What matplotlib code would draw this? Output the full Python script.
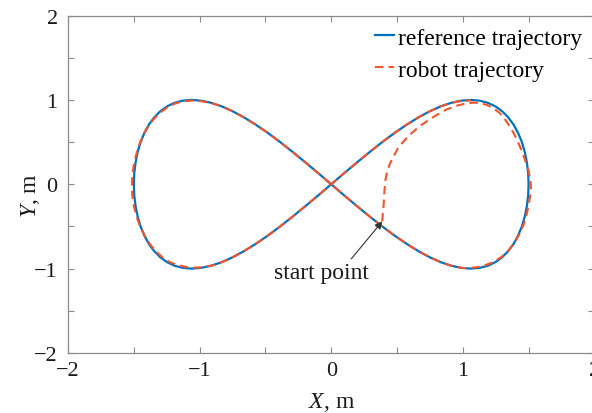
import numpy as np
import matplotlib.pyplot as plt

plt.rcParams['font.family'] = ['Liberation Serif', 'DejaVu Serif']
plt.rcParams['mathtext.fontset'] = 'custom'
plt.rcParams['mathtext.rm'] = 'Liberation Serif'
plt.rcParams['mathtext.it'] = 'Liberation Serif:italic'

# reference figure-eight path, m
ref_x = [0.000, 0.098, 0.196, 0.293, 0.388, 0.482, 0.574, 0.663, 0.750, 0.833, 0.913, 0.989,
         1.061, 1.128, 1.190, 1.247, 1.299, 1.345, 1.386, 1.420, 1.449, 1.471, 1.487, 1.497,
         1.500, 1.497, 1.487, 1.471, 1.449, 1.420, 1.386, 1.345, 1.299, 1.247, 1.190, 1.128,
         1.061, 0.989, 0.913, 0.833, 0.750, 0.663, 0.574, 0.482, 0.388, 0.293, 0.196, 0.098,
         0.000, -0.098, -0.196, -0.293, -0.388, -0.482, -0.574, -0.663, -0.750, -0.833, -0.913, -0.989,
         -1.061, -1.128, -1.190, -1.247, -1.299, -1.345, -1.386, -1.420, -1.449, -1.471, -1.487, -1.497,
         -1.500, -1.497, -1.487, -1.471, -1.449, -1.420, -1.386, -1.345, -1.299, -1.247, -1.190, -1.128,
         -1.061, -0.989, -0.913, -0.833, -0.750, -0.663, -0.574, -0.482, -0.388, -0.293, -0.196, -0.098,
         0.000]
ref_y = [0.000, 0.131, 0.259, 0.383, 0.500, 0.609, 0.707, 0.793, 0.866, 0.924, 0.966, 0.991,
         1.000, 0.991, 0.966, 0.924, 0.866, 0.793, 0.707, 0.609, 0.500, 0.383, 0.259, 0.131,
         0.000, -0.131, -0.259, -0.383, -0.500, -0.609, -0.707, -0.793, -0.866, -0.924, -0.966, -0.991,
         -1.000, -0.991, -0.966, -0.924, -0.866, -0.793, -0.707, -0.609, -0.500, -0.383, -0.259, -0.131,
         0.000, 0.131, 0.259, 0.383, 0.500, 0.609, 0.707, 0.793, 0.866, 0.924, 0.966, 0.991,
         1.000, 0.991, 0.966, 0.924, 0.866, 0.793, 0.707, 0.609, 0.500, 0.383, 0.259, 0.131,
         0.000, -0.131, -0.259, -0.383, -0.500, -0.609, -0.707, -0.793, -0.866, -0.924, -0.966, -0.991,
         -1.000, -0.991, -0.966, -0.924, -0.866, -0.793, -0.707, -0.609, -0.500, -0.383, -0.259, -0.131,
         0.000]

# measured robot path, m
robot_x = [0.388, 0.392, 0.398, 0.402, 0.406, 0.412, 0.425, 0.445, 0.470, 0.505, 0.545, 0.600,
           0.665, 0.730, 0.800, 0.875, 0.950, 1.015, 1.080, 1.130, 1.180, 1.230, 1.280, 1.320,
           1.360, 1.395, 1.425, 1.455, 1.480, 1.500, 1.513, 1.518, 1.512, 1.500, 1.485, 1.462,
           1.430, 1.395, 1.350, 1.295, 1.230, 1.160, 1.100, 1.040,
           0.989, 0.913, 0.833, 0.750, 0.663, 0.574, 0.482, 0.388, 0.293, 0.196, 0.098, 0.000,
           -0.098, -0.196, -0.293, -0.388, -0.482, -0.574, -0.663, -0.750, -0.833, -0.913, -0.989, -1.061,
           -1.128, -1.190, -1.247, -1.299, -1.345, -1.386, -1.420, -1.452, -1.477, -1.497, -1.510, -1.515,
           -1.512, -1.500, -1.480, -1.452, -1.418, -1.380, -1.336, -1.286, -1.230, -1.170, -1.105, -1.040,
           -0.975, -0.900, -0.825, -0.745, -0.663, -0.574, -0.482, -0.388, -0.293, -0.196, -0.098, 0.000,
           0.098, 0.196, 0.293, 0.388, 0.482, 0.574, 0.663, 0.750, 0.833, 0.913, 0.989, 1.061]
robot_y = [-0.440, -0.350, -0.250, -0.150, -0.050, 0.050, 0.150, 0.240, 0.320, 0.420, 0.500, 0.590,
           0.680, 0.750, 0.820, 0.885, 0.930, 0.955, 0.968, 0.962, 0.942, 0.905, 0.845, 0.770,
           0.680, 0.580, 0.480, 0.370, 0.260, 0.160, 0.060, -0.040, -0.140, -0.250, -0.360, -0.480,
           -0.590, -0.690, -0.780, -0.860, -0.925, -0.965, -0.985, -0.995,
           -0.991, -0.966, -0.924, -0.866, -0.793, -0.707, -0.609, -0.500, -0.383, -0.259, -0.131, 0.000,
           0.131, 0.259, 0.383, 0.500, 0.609, 0.707, 0.793, 0.866, 0.924, 0.964, 0.985, 0.992,
           0.983, 0.955, 0.910, 0.850, 0.780, 0.700, 0.605, 0.500, 0.383, 0.259, 0.131, 0.000,
           -0.131, -0.259, -0.383, -0.500, -0.610, -0.705, -0.790, -0.862, -0.920, -0.957, -0.980, -0.988,
           -0.985, -0.960, -0.920, -0.862, -0.793, -0.707, -0.609, -0.500, -0.383, -0.259, -0.131, 0.000,
           0.131, 0.259, 0.383, 0.500, 0.609, 0.707, 0.793, 0.866, 0.924, 0.966, 0.988, 0.995]

start_pt = (robot_x[0], robot_y[0])
start_label = (-0.074, -1.05)
arrow_tail = (0.152, -0.885)

fig = plt.figure(figsize=(5.92, 4.14), dpi=100)
ax = fig.add_axes([0.115, 0.145, 0.889, 0.815])

ax.plot(ref_x, ref_y, color='#0072BD', lw=1.6, label='reference trajectory')
ax.plot(robot_x, robot_y, color='#F2552C', lw=1.5, ls=(0, (4, 2.5)), label='robot trajectory')

ax.text(start_label[0], start_label[1], 'start point', fontsize=17,
        ha='center', va='center', color='#1a1a1a')
ax.annotate('', xy=start_pt, xytext=arrow_tail,
            arrowprops=dict(arrowstyle='-|>', color='#333333', lw=0.8,
                            shrinkA=0, shrinkB=0, mutation_scale=11))

ax.set_xlim(-2, 2)
ax.set_ylim(-2, 2)
ax.set_xticks([-2, -1, 0, 1, 2])
ax.set_yticks([-2, -1, 0, 1, 2])
ax.set_xticks(np.arange(-2, 2.01, 0.5), minor=True)
ax.set_yticks(np.arange(-2, 2.01, 0.5), minor=True)
ax.tick_params(which='both', direction='in', top=True, right=True,
               length=4, width=0.8, color='#8a8a8a', labelsize=16,
               labelcolor='#1a1a1a')
ax.tick_params(axis='x', pad=5.5)
ax.tick_params(axis='y', pad=7.5)
for s in ax.spines.values():
    s.set_color('#8a8a8a')
    s.set_linewidth(0.9)

ax.set_xlabel('$\\it{X}$, m', fontsize=17, color='#1a1a1a')
ax.set_ylabel('$\\it{Y}$, m', fontsize=17, color='#1a1a1a')
ax.xaxis.set_label_coords(0.5, -0.110)
ax.yaxis.set_label_coords(-0.049, 0.47)

ax.legend(loc='upper right', frameon=False, fontsize=17, handlelength=0.8,
          handletextpad=0.17, borderpad=0, borderaxespad=0, labelspacing=0.45,
          bbox_to_anchor=(0.976, 0.966))

fig.savefig('out.png', dpi=100)
